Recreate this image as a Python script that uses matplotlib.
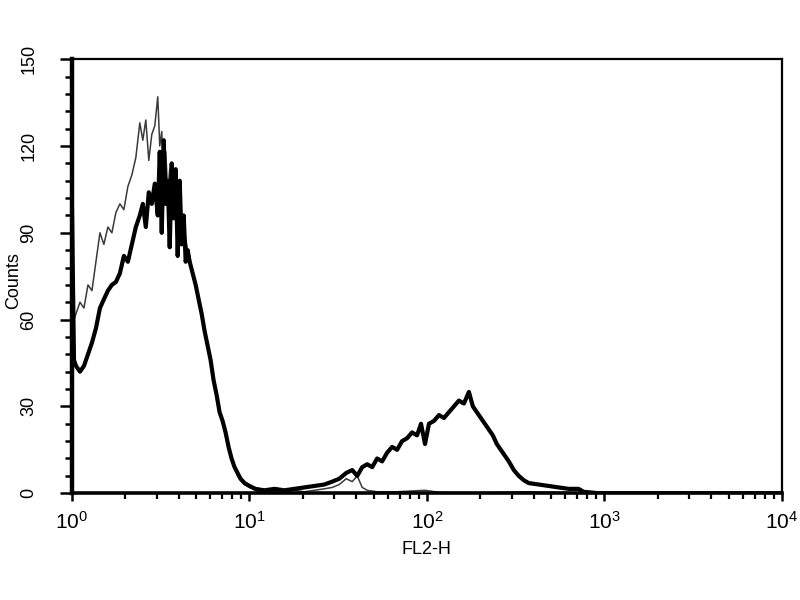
import matplotlib
matplotlib.use("Agg")
import matplotlib.pyplot as plt
from matplotlib.ticker import LogLocator, MultipleLocator, NullFormatter

plt.rcParams['font.family'] = ['Liberation Sans', 'DejaVu Sans']

# sample (thick) histogram: FL2-H value, counts
sample_x = [1.0, 1.026, 1.053, 1.109, 1.168, 1.230, 1.295, 1.364, 1.437, 1.512,
            1.593, 1.678, 1.767, 1.861, 1.960, 2.064, 2.174, 2.289, 2.410, 2.506,
            2.605, 2.708, 2.815, 2.927, 3.042, 3.122, 3.204, 3.288, 3.374, 3.462,
            3.553, 3.646, 3.741, 3.839, 3.940, 4.043, 4.150, 4.258, 4.370, 4.484,
            4.602, 4.784, 4.974, 5.170, 5.375, 5.587, 5.808, 6.038, 6.278, 6.525,
            6.784, 7.053, 7.332, 7.621, 7.923, 8.237, 8.563, 8.902, 9.374, 10.0,
            10.81, 12.14, 13.82, 15.73, 17.89, 20.37, 23.19, 26.38, 29.27, 32.03,
            35.07, 37.91, 40.45, 43.14, 46.02, 49.10, 52.38, 55.88, 59.62, 63.60,
            67.85, 72.38, 77.21, 82.38, 87.88, 92.53, 97.45, 102.6, 109.5, 116.8,
            124.6, 132.9, 141.8, 151.2, 161.4, 172.2, 181.3, 190.9, 201.1, 211.8,
            223.0, 234.9, 247.4, 260.5, 274.4, 288.9, 308.3, 328.8, 350.7, 374.1,
            425.8, 484.6, 551.5, 627.9, 714.5, 762.1, 925.0, 9800.0]
sample_counts = [98, 46, 44, 42, 44, 48, 52, 57, 64, 67,
                 70, 72, 73, 76, 82, 80, 86, 92, 96, 100,
                 92, 104, 100, 107, 96, 118, 90, 122, 100, 108,
                 85, 114, 95, 112, 82, 108, 86, 96, 80, 84,
                 80, 76, 72, 67, 62, 56, 51, 46, 39, 34,
                 28, 25, 21, 16, 12, 9, 7, 5, 3.5, 2.5,
                 1.5, 1, 1.5, 1, 1.5, 2, 2.5, 3, 4, 5,
                 7, 8, 6, 9, 10, 9, 12, 11, 14, 16,
                 15, 18, 19, 21, 20, 24, 17, 24, 25, 27,
                 26, 28, 30, 32, 31, 35, 30, 28, 26, 24,
                 22, 20, 17, 15, 13, 11, 8, 6, 4.5, 3.5,
                 3, 2.5, 2, 1.5, 1.5, 0.5, 0, 0]

# control (thin) histogram
control_x = [1.0, 1.026, 1.053, 1.109, 1.168, 1.230, 1.295, 1.364, 1.437, 1.512,
             1.593, 1.678, 1.767, 1.861, 1.960, 2.064, 2.174, 2.289, 2.410, 2.506,
             2.605, 2.708, 2.815, 2.927, 3.042, 3.122, 3.204, 3.288, 3.374, 3.462,
             3.553, 3.646, 3.741, 3.839, 3.940, 4.043, 4.150, 4.258, 4.370, 4.484,
             4.602, 4.784, 4.974, 5.170, 5.375, 5.587, 5.808, 6.038, 6.278, 6.525,
             6.784, 7.053, 7.332, 7.621, 7.923, 8.237, 8.563, 8.902, 9.374, 10.0,
             10.81, 12.14, 13.82, 15.73, 17.89, 20.37, 23.19, 26.38, 29.27, 32.03,
             35.07, 37.91, 40.45, 43.14, 46.02, 52.38, 67.85, 97.45, 116.8, 196.0,
             374.1, 551.5, 925.0, 9800.0]
control_counts = [98, 60, 62, 66, 64, 72, 70, 80, 90, 86,
                  92, 90, 97, 100, 98, 106, 110, 116, 128, 122,
                  129, 115, 124, 127, 137, 120, 125, 108, 118, 104,
                  112, 100, 110, 96, 104, 92, 96, 88, 88, 84,
                  82, 76, 72, 67, 61, 56, 50, 45, 39, 33,
                  28, 24, 20, 15, 12, 9, 6, 4.5, 3, 2,
                  1, 0.5, 0.5, 0.5, 1, 0.5, 1, 1.5, 2, 3,
                  5, 4, 6, 2, 1, 0.5, 0.5, 1, 0.3, 0.2,
                  0.5, 0.3, 0, 0]

y_ticks = [0, 30, 60, 90, 120, 150]

fig = plt.figure(figsize=(8, 6), dpi=100)
ax = fig.add_axes([0.09, 0.178, 0.8875, 0.7233])

ax.plot(control_x, control_counts, color='#3a3a3a', linewidth=1.1)
ax.plot(sample_x, sample_counts, color='black', linewidth=3.0)

ax.set_xscale('log')
ax.set_xlim(1, 10000)
ax.set_ylim(0, 150)
ax.set_yticks(y_ticks)
ax.yaxis.set_minor_locator(MultipleLocator(6))
ax.xaxis.set_major_locator(LogLocator(base=10))
ax.xaxis.set_minor_locator(LogLocator(base=10, subs=range(2, 10)))
ax.xaxis.set_minor_formatter(NullFormatter())

ax.spines['left'].set_linewidth(3.2)
ax.spines['bottom'].set_linewidth(2.6)
ax.spines['top'].set_linewidth(1.6)
ax.spines['right'].set_linewidth(1.6)

ax.tick_params(axis='y', which='major', direction='out', length=9, width=1.8,
               labelsize=13, labelrotation=90, pad=16)
ax.tick_params(axis='y', which='minor', direction='out', length=5, width=1.8)
ax.tick_params(axis='x', which='major', direction='out', length=6, width=1.8,
               labelsize=15, pad=7)
ax.tick_params(axis='x', which='minor', direction='out', length=4, width=1.6)
for lab in ax.get_yticklabels():
    lab.set_verticalalignment('center')

ax.set_xlabel('FL2-H', fontsize=13)
ax.xaxis.set_label_coords(0.499, -0.11)
ax.set_ylabel('Counts', fontsize=13)
ax.yaxis.set_label_coords(-0.07, 0.49)

fig.savefig('out.png', dpi=100)
